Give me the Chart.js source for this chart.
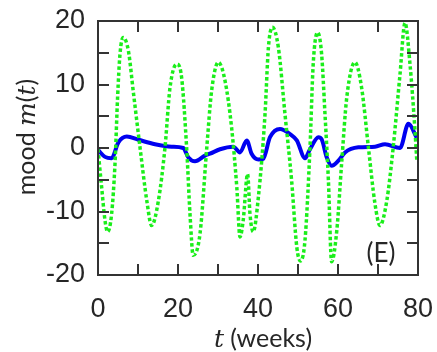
<!DOCTYPE html>
<html>
<head>
<meta charset="utf-8">
<script src="https://cdn.jsdelivr.net/npm/chart.js@4"></script>
<style>
  html, body { margin: 0; padding: 0; background: #fff; }
  #wrap { width: 437px; height: 352px; }
</style>
</head>
<body>
<div id="wrap"><canvas id="moodChart" width="437" height="352"></canvas></div>
<script>
// green (dotted) series
const greenWeeks = [0, 0.9, 1.75, 2.4, 3.4, 4.25, 4.9, 5.5, 6.3, 7.6, 8.8, 10.5, 12.2, 13.4, 15.1, 16.75, 18, 19.7, 20.9, 22.2, 23, 23.8,
  25.5, 27.2, 28.4, 30.1, 31.75, 33.4, 34.7, 35.5, 36.3, 37.4, 38, 38.8, 40.1, 41.75, 42.6, 43.6, 45.1, 46.75, 48.4, 49.7, 50.6,
  51.75, 53, 53.8, 54.9, 55.9, 56.75, 57.6, 58.4, 59.7, 60.9, 62.2, 64.25, 65.9, 67.6, 69.25, 70.5, 72.2, 73.8, 75.5, 76.75, 78, 79.25, 79.7];
const greenMood = [-0.2, -6.1, -11.4, -13.2, -10.4, -2.5, 8, 14.8, 17.4, 15.3, 9, 0.1, -8.3, -12.2, -8.3, 0.1, 9.5, 13.2, 11.1, -0.4, -10.4, -16.9,
  -13.5, 0.1, 9, 13.5, 10.6, 3.2, -6.2, -14, -11.4, -4.1, -10.4, -13.2, -7.7, 5.3, 15.8, 19, 15.8, 5.3, -5.1, -15.6, -17.8,
  -14.5, 0.1, 13.2, 18.2, 14.8, 5.3, -5.1, -17.9, -13, -2.5, 8, 13.5, 9.5, 0.1, -8.8, -12.2, -8.3, 0.1, 11.6, 19.7, 13.2, 2.7, -2];

// blue (solid) series
const blueWeeks = [0, 1.75, 3.4, 5.1, 7.2, 10.1, 14.25, 18.4, 21.3, 22.6, 24.25, 26.75, 28, 30.5, 33.8, 35.5, 37.2, 38.4, 40.1, 41.3,
  43, 45.5, 48, 49.7, 51.75, 53, 55.1, 55.9, 57.2, 58.4, 60.1, 61.75, 65.1, 69.25, 71.75, 75.5, 77.6, 79.7];
const blueMood = [-0.3, -1.4, -1.6, 0.9, 1.8, 1.3, 0.6, 0.2, 0, -1.5, -2.1, -1.2, -0.9, -0.2, 0.2, -0.7, 1.2, -0.9, -1.8, -1.7,
  1.7, 3, 2.2, 1.2, -1.6, -0.2, 1.7, 1.4, -1.5, -2.8, -2, -0.7, 0.1, 0.2, 0.6, 0, 3.8, 1.6];

// tick marks (labels every 20 / 10, marks every 10 / 5)
const xTickMarks = [10, 20, 30, 40, 50, 60, 70];
const yTickMarks = [-15, -10, -5, 0, 5, 10, 15];

const toPoints = (xs, ys) => xs.map((x, i) => ({ x: x, y: ys[i] }));

const INK = '#262626';
const TICK_FONT = { family: 'Arial, "Liberation Sans", sans-serif', size: 27 };

// box, inward ticks, axis titles and panel letter
const framePlugin = {
  id: 'frame',
  afterDatasetsDraw(chart) {
    const { ctx, chartArea: a, scales: { x, y } } = chart;
    ctx.save();
    ctx.strokeStyle = '#333';
    ctx.lineWidth = 2;
    ctx.strokeRect(a.left, a.top, a.right - a.left, a.bottom - a.top);
    ctx.beginPath();
    xTickMarks.forEach(t => {
      const px = Math.round(x.getPixelForValue(t));
      ctx.moveTo(px, a.bottom); ctx.lineTo(px, a.bottom - 11);
      ctx.moveTo(px, a.top); ctx.lineTo(px, a.top + 11);
    });
    yTickMarks.forEach(v => {
      const py = Math.round(y.getPixelForValue(v));
      ctx.moveTo(a.left, py); ctx.lineTo(a.left + 11, py);
      ctx.moveTo(a.right, py); ctx.lineTo(a.right - 11, py);
    });
    ctx.stroke();

    ctx.fillStyle = INK;
    ctx.textBaseline = 'alphabetic';

    // x title: italic t + (weeks)
    const mathFont = 'italic 25px "DejaVu Serif"';
    const textFont = '25px Lato';
    ctx.font = mathFont;
    const wT = ctx.measureText('t').width;
    ctx.font = textFont;
    const wRest = ctx.measureText(' (weeks)').width;
    const sx = 263 - (wT + wRest) / 2;
    ctx.textAlign = 'left';
    ctx.font = mathFont; ctx.fillText('t', sx, 347);
    ctx.font = textFont; ctx.fillText(' (weeks)', sx + wT, 347);

    // y title: mood m(t), rotated
    ctx.save();
    ctx.translate(35, 137);
    ctx.rotate(-Math.PI / 2);
    const parts = [['mood ', textFont], ['m', mathFont], ['(', textFont], ['t', mathFont], [')', textFont]];
    const widths = parts.map(([s, f]) => { ctx.font = f; return ctx.measureText(s).width; });
    let cx = -widths.reduce((p, w) => p + w, 0) / 2;
    parts.forEach(([s, f], i) => { ctx.font = f; ctx.fillText(s, cx, 0); cx += widths[i]; });
    ctx.restore();

    // panel letter
    ctx.font = '26px Lato';
    ctx.textAlign = 'center';
    ctx.fillText('(E)', 381, 262);
    ctx.restore();
  }
};

function zeroPad(s) {
  s.paddingTop = 0; s.paddingBottom = 0; s.paddingLeft = 0; s.paddingRight = 0;
}

new Chart(document.getElementById('moodChart').getContext('2d'), {
  type: 'line',
  data: {
    datasets: [
      {
        label: 'green',
        data: toPoints(greenWeeks, greenMood),
        borderColor: '#1aee1a',
        borderWidth: 3.5,
        borderDash: [3.5, 2.5],
        borderCapStyle: 'butt',
        cubicInterpolationMode: 'monotone',
        pointRadius: 0,
        fill: false
      },
      {
        label: 'blue',
        data: toPoints(blueWeeks, blueMood),
        borderColor: '#0000f0',
        borderWidth: 4,
        cubicInterpolationMode: 'monotone',
        pointRadius: 0,
        fill: false
      }
    ]
  },
  options: {
    responsive: false,
    animation: false,
    layout: { padding: { top: 21, right: 19, left: 0, bottom: 0 } },
    plugins: {
      legend: { display: false },
      tooltip: { enabled: false }
    },
    scales: {
      x: {
        type: 'linear',
        min: 0,
        max: 80,
        ticks: { stepSize: 20, color: INK, maxRotation: 0, padding: 18, font: TICK_FONT },
        grid: { display: false, drawTicks: false },
        border: { display: false },
        afterFit(s) { s.height = 77; zeroPad(s); }
      },
      y: {
        min: -20,
        max: 20,
        ticks: { stepSize: 10, color: INK, padding: 13, font: TICK_FONT },
        grid: { display: false, drawTicks: false },
        border: { display: false },
        afterFit(s) { s.width = 98; zeroPad(s); }
      }
    }
  },
  plugins: [framePlugin]
});
</script>
</body>
</html>
